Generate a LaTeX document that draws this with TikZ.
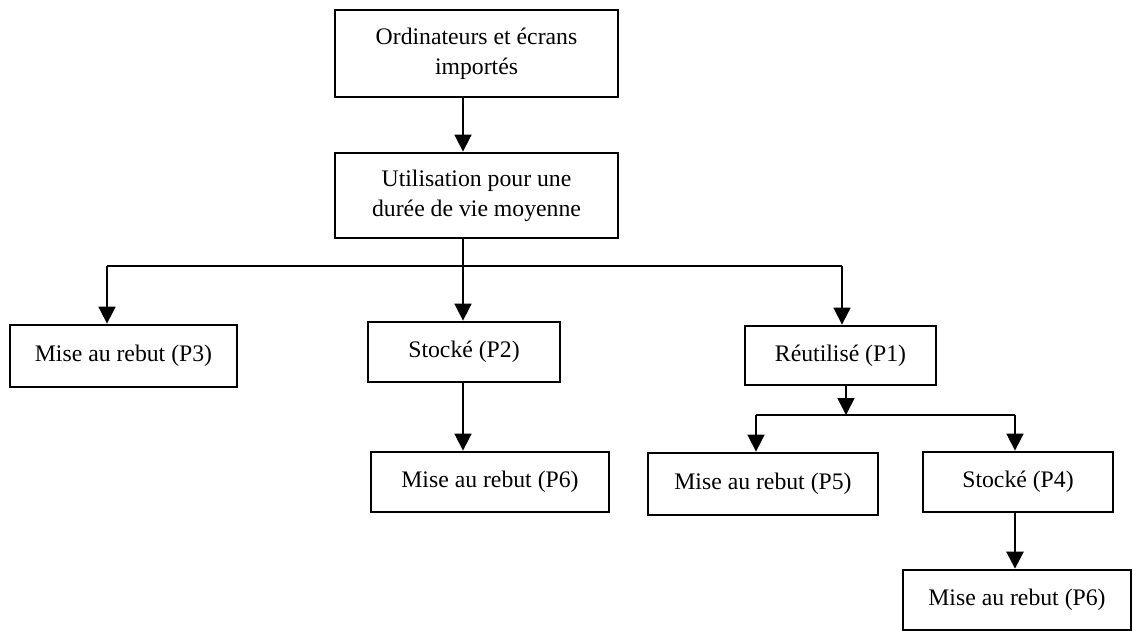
\documentclass[tikz,border=0pt]{standalone}
\usepackage{fontspec}
\setmainfont{Liberation Serif}
\usetikzlibrary{arrows.meta}

\begin{document}
\begin{tikzpicture}[x=0.02cm, y=-0.02cm,
    every node/.style={draw, line width=1.6pt, align=center, inner sep=2pt,
        font=\fontsize{13.5}{17}\selectfont},
    arr/.style={line width=1pt, -{Triangle[width=0.34cm, length=0.34cm]}}]
    \useasboundingbox (0,0) rectangle (1133,631);

    \node[minimum width=5.66cm, minimum height=1.74cm] (imp) at (476.5, 53.5) {Ordinateurs et écrans\\importés};
    \node[minimum width=5.66cm, minimum height=1.7cm] (util) at (476.5, 195.5) {Utilisation pour une\\durée de vie moyenne};
    \node[minimum width=4.54cm, minimum height=1.24cm] (p3) at (123.5, 356) {Mise au rebut (P3)};
    \node[minimum width=3.84cm, minimum height=1.2cm] (p2) at (464, 352) {Stocké (P2)};
    \node[minimum width=4.76cm, minimum height=1.2cm] (p6a) at (490, 482) {Mise au rebut (P6)};
    \node[minimum width=3.82cm, minimum height=1.18cm] (p1) at (840.5, 355.5) {Réutilisé (P1)};
    \node[minimum width=4.6cm, minimum height=1.24cm] (p5) at (763, 484) {Mise au rebut (P5)};
    \node[minimum width=3.8cm, minimum height=1.2cm] (p4) at (1018, 482) {Stocké (P4)};
    \node[minimum width=4.56cm, minimum height=1.2cm] (p6b) at (1017, 600) {Mise au rebut (P6)};

    \coordinate (j1) at (463, 266);
    \coordinate (l1) at (107, 266);
    \coordinate (r1) at (842, 266);
    \coordinate (j2) at (846, 415);
    \coordinate (l2) at (756, 415);
    \coordinate (r2) at (1015, 415);

    \draw[arr] (imp.south -| j1) -- (util.north -| j1);
    \draw[line width=1pt] (util.south -| j1) -- (j1);
    \draw[line width=1pt] (l1) -- (r1);
    \draw[arr] (l1) -- (p3.north -| l1);
    \draw[arr] (j1) -- (p2.north -| j1);
    \draw[arr] (r1) -- (p1.north -| r1);
    \draw[arr] (p2.south -| j1) -- (p6a.north -| j1);

    \draw[arr] (p1.south -| j2) -- (j2);
    \draw[line width=1pt] (l2) -- (r2);
    \draw[arr] (l2) -- (p5.north -| l2);
    \draw[arr] (r2) -- (p4.north -| r2);
    \draw[arr, line width=1.5pt] (p4.south -| r2) -- (p6b.north -| r2);
\end{tikzpicture}
\end{document}
